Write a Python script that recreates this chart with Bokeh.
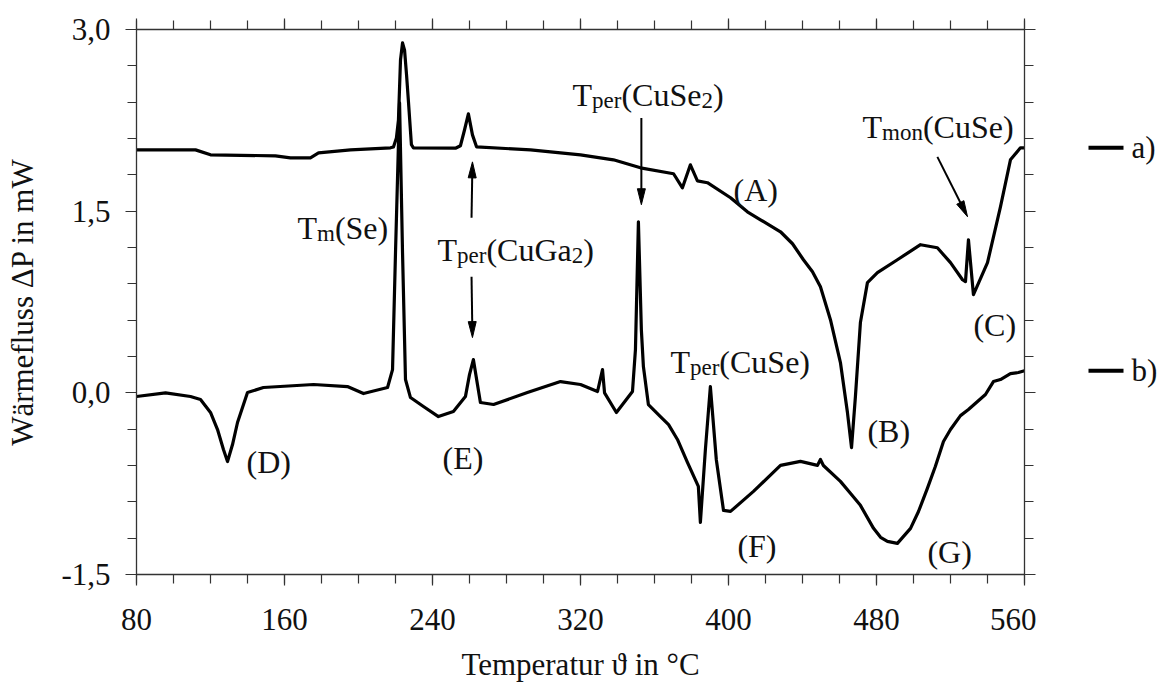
from bokeh.plotting import figure
from bokeh.layouts import row
from bokeh.models import (ColumnDataSource, FixedTicker, CustomJSTickFormatter,
                          LinearAxis, Range1d)
from bokeh.core.properties import value
from bokeh.embed import file_html
from bokeh.resources import INLINE

# --- DSC curves: temperature in °C, heat flow in mW -------------------------
temp_a = [80.0, 111.9, 120.0, 155.1, 163.2, 174.0, 178.4, 195.7, 217.3, 218.9,
          220.5, 221.6, 222.7, 223.8, 224.9, 226.0, 227.0, 228.6, 229.7, 252.4,
          255.1, 257.3, 259.4, 261.6, 263.8, 293.0, 320.0, 337.8, 352.4, 370.3,
          375.1, 379.4, 383.2, 388.6, 401.1, 410.2, 417.3, 428.1, 434.6, 440.5,
          445.4, 449.7, 455.1, 460.5, 464.3, 466.5, 468.6, 471.3, 475.1, 480.5,
          491.3, 503.8, 512.9, 520.0, 526.5, 528.1, 529.7, 532.4, 540.0, 547.0,
          552.4, 557.8, 560.0]
flow_a = [2.006, 2.006, 1.965, 1.957, 1.940, 1.940, 1.981, 2.006, 2.023, 2.03,
          2.105, 2.254, 2.748, 2.889, 2.83, 2.62, 2.405, 2.049, 2.023, 2.02,
          2.04, 2.17, 2.303, 2.13, 2.031, 2.006, 1.965, 1.924, 1.858, 1.809,
          1.693, 1.883, 1.75, 1.735, 1.611, 1.495, 1.429, 1.330, 1.231, 1.099,
          1.000, 0.876, 0.604, 0.250, -0.163, -0.452, -0.031, 0.580, 0.910, 0.993,
          1.099, 1.223, 1.198, 1.075, 0.934, 0.918, 1.264, 0.811, 1.075, 1.536,
          1.924, 2.023, 2.023]

temp_b = [80.0, 95.7, 109.2, 114.6, 120.0, 123.8, 127.0, 129.2, 131.9, 134.6,
          140.0, 148.6, 175.7, 194.0, 202.7, 209.2, 215.7, 218.4, 220.0, 222.2,
          223.8, 225.4, 228.1, 235.1, 243.2, 251.3, 257.8, 260.0, 262.1, 264.3,
          265.9, 273.0, 291.3, 309.2, 320.0, 329.2, 331.9, 333.0, 339.4, 348.1,
          349.7, 351.3, 352.9, 354.0, 356.7, 363.2, 367.6, 372.4, 377.8, 383.7,
          384.8, 387.5, 390.2, 393.4, 397.3, 401.1, 413.5, 428.1, 438.9, 448.1,
          449.7, 451.3, 460.5, 466.0, 471.3, 478.4, 482.2, 485.9, 491.3, 498.4,
          502.7, 507.5, 511.8, 516.2, 520.0, 525.4, 529.7, 534.6, 538.9, 543.2,
          547.0, 552.4, 556.7, 560.0]
flow_b = [-0.030, 0.0, -0.030, -0.055, -0.162, -0.303, -0.468, -0.567, -0.427, -0.245,
          0.002, 0.044, 0.069, 0.052, -0.006, 0.019, 0.044, 0.192, 1.157, 2.394,
          1.157, 0.110, -0.039, -0.113, -0.196, -0.155, -0.031, 0.15, 0.275, 0.069,
          -0.080, -0.096, 0.002, 0.093, 0.069, 0.011, 0.192, 0.0, -0.162, 0.011,
          0.357, 1.412, 0.52, 0.217, -0.097, -0.196, -0.262, -0.385, -0.575, -0.773,
          -1.070, -0.47, 0.052, -0.55, -0.971, -0.979, -0.814, -0.599, -0.566, -0.599,
          -0.55, -0.6, -0.731, -0.832, -0.929, -1.119, -1.193, -1.226, -1.243, -1.119,
          -0.980, -0.789, -0.608, -0.402, -0.303, -0.188, -0.138, -0.072, -0.014, 0.093,
          0.110, 0.159, 0.168, 0.183]

series_names = ["a)", "b)"]

x_ticks = [80, 160, 240, 320, 400, 480, 560]
y_ticks = [-1.5, 0.0, 1.5, 3.0]
x_label = "Temperatur \u03d1 in \u00b0C"
y_label = "W\u00e4rmefluss \u0394P in mW"

# annotation texts: (x, y, [(piece, is_subscript), ...])
annotations = [
    (167.0, 1.363, [("T", False), ("m", True), ("(Se)", False)]),
    (242.7, 1.182, [("T", False), ("per", True), ("(CuGa", False), ("2", True), (")", False)]),
    (315.7, 2.460, [("T", False), ("per", True), ("(CuSe", False), ("2", True), (")", False)]),
    (472.4, 2.196, [("T", False), ("mon", True), ("(CuSe)", False)]),
    (368.6, 0.258, [("T", False), ("per", True), ("(CuSe)", False)]),
    (402.7, 1.677, [("(A)", False)]),
    (475.1, -0.319, [("(B)", False)]),
    (532.4, 0.563, [("(C)", False)]),
    (139.5, -0.575, [("(D)", False)]),
    (245.4, -0.534, [("(E)", False)]),
    (404.8, -1.267, [("(F)", False)]),
    (507.5, -1.316, [("(G)", False)]),
]

# arrows: (x_start, y_start, x_tip, y_tip)
arrows = [
    (261.1, 1.446, 261.6, 1.907),
    (261.1, 0.959, 261.6, 0.456),
    (352.9, 2.270, 352.9, 1.553),
    (512.9, 1.948, 529.2, 1.454),
]

# --- layout constants --------------------------------------------------------
FONT = "Liberation Serif"
INK = "#111111"
AXIS_INK = "#333333"
X0, X1 = 80, 560
Y0, Y1 = -1.5, 3.0
FRAME_W, FRAME_H = 888, 545
SX = FRAME_W / (X1 - X0)
SY = FRAME_H / (Y1 - Y0)
MAIN_SIZE, SUB_SIZE = 32, 23

p = figure(frame_width=FRAME_W, frame_height=FRAME_H,
           x_range=Range1d(X0, X1), y_range=Range1d(Y0, Y1),
           x_axis_location=None, y_axis_location=None,
           output_backend="svg", toolbar_location=None,
           min_border_left=136, min_border_top=29, min_border_bottom=121,
           min_border_right=12)
p.outline_line_color = None
p.xgrid.visible = False
p.ygrid.visible = False
p.background_fill_color = "white"
p.border_fill_color = "white"

x_ticker = FixedTicker(ticks=x_ticks, minor_ticks=list(range(80, 561, 20)))
y_ticker = FixedTicker(ticks=y_ticks, minor_ticks=[round(-1.5 + 0.3 * i, 2) for i in range(16)])
y_fmt = CustomJSTickFormatter(code="return tick.toFixed(1).replace('.', ',');")
blank_fmt = CustomJSTickFormatter(code="return '';")


def style_axis(ax, show_labels):
    ax.axis_line_color = AXIS_INK
    ax.axis_line_width = 1.3
    ax.major_tick_in = 0
    ax.major_tick_out = 11
    ax.minor_tick_in = 0
    ax.minor_tick_out = 9
    ax.major_tick_line_color = AXIS_INK
    ax.minor_tick_line_color = AXIS_INK
    ax.major_tick_line_width = 1.2
    ax.minor_tick_line_width = 1.2
    if show_labels:
        ax.major_label_text_font = FONT
        ax.major_label_text_font_size = "31px"
        ax.major_label_text_color = INK
        ax.axis_label_text_font = FONT
        ax.axis_label_text_font_size = "31px"
        ax.axis_label_text_font_style = "normal"
        ax.axis_label_text_color = INK
    else:
        ax.formatter = blank_fmt
        ax.major_label_text_font_size = "1px"
        ax.major_label_text_color = None
        ax.major_label_standoff = 0


bottom = LinearAxis(ticker=x_ticker, axis_label=x_label)
style_axis(bottom, True)
bottom.major_label_standoff = 23
bottom.axis_label_standoff = 14
top = LinearAxis(ticker=x_ticker)
style_axis(top, False)
left = LinearAxis(ticker=y_ticker, formatter=y_fmt, axis_label=y_label)
style_axis(left, True)
left.major_label_standoff = 15
left.axis_label_standoff = 18
right = LinearAxis(ticker=y_ticker)
style_axis(right, False)
p.add_layout(bottom, "below")
p.add_layout(top, "above")
p.add_layout(left, "left")
p.add_layout(right, "right")

# curves
p.line(temp_a, flow_a, line_color="black", line_width=3.2, line_join="round")
p.line(temp_b, flow_b, line_color="black", line_width=3.2, line_join="round")

# arrows: shafts plus narrow filled heads
HEAD_LEN, HEAD_HALF = 16.0, 4.0
shaft_x0, shaft_y0, shaft_x1, shaft_y1 = [], [], [], []
head_xs, head_ys = [], []
for xs, ys, xt, yt in arrows:
    dx, dy = (xt - xs) * SX, (yt - ys) * SY
    length = (dx * dx + dy * dy) ** 0.5
    ux, uy = dx / length, dy / length
    bx, by = -ux * HEAD_LEN, -uy * HEAD_LEN
    nx, ny = -uy * HEAD_HALF, ux * HEAD_HALF
    shaft_x0.append(xs)
    shaft_y0.append(ys)
    shaft_x1.append(xt + bx / SX * 0.7)
    shaft_y1.append(yt + by / SY * 0.7)
    head_xs.append([xt, xt + (bx + nx) / SX, xt + (bx - nx) / SX])
    head_ys.append([yt, yt + (by + ny) / SY, yt + (by - ny) / SY])
p.segment(shaft_x0, shaft_y0, shaft_x1, shaft_y1, line_color="black", line_width=2)
p.patches(head_xs, head_ys, fill_color="black", line_color="black", line_width=1)

# annotation texts with subscripts, laid out with Times-like advance widths
ADV = {"T": .611, "m": .778, "p": .5, "e": .444, "r": .333, "o": .5, "n": .5,
       "(": .333, ")": .333, "C": .667, "u": .5, "S": .556, "G": .722, "a": .444,
       "2": .5, "A": .722, "B": .667, "D": .722, "E": .611, "F": .556}

tx, ty, tt, tdx, tdy, tsize = [], [], [], [], [], []
for x, y, pieces in annotations:
    off = 0.0
    for piece, sub in pieces:
        size = SUB_SIZE if sub else MAIN_SIZE
        tx.append(x)
        ty.append(y)
        tt.append(piece)
        tdx.append(off)
        tdy.append(6 if sub else 0)
        tsize.append(f"{size}px")
        off += sum(ADV.get(c, 0.5) for c in piece) * size
text_src = ColumnDataSource(dict(x=tx, y=ty, text=tt, dx=tdx, dy=tdy, size=tsize))
p.text(x="x", y="y", text="text", x_offset="dx", y_offset="dy",
       text_font_size="size", text_font=value(FONT), text_color=INK,
       text_align="left", text_baseline="alphabetic", source=text_src)

# --- series key at the right, level with each curve's end --------------------
q = figure(frame_width=123, frame_height=FRAME_H,
           x_range=Range1d(0, 123), y_range=p.y_range,
           x_axis_location=None, y_axis_location=None,
           output_backend="svg", toolbar_location=None,
           min_border_left=0, min_border_right=0, min_border_top=29,
           min_border_bottom=121)
q.outline_line_color = None
q.xgrid.visible = False
q.ygrid.visible = False
ends = [flow_a[-1], flow_b[-1]]
q.segment(x0=[52, 52], y0=ends, x1=[87, 87], y1=ends, line_color="black", line_width=4)
q.text(x=[95, 95], y=ends, text=series_names, text_font=value(FONT),
       text_font_size="31px", text_color=INK, text_baseline="middle", text_align="left")

layout = row(p, q)
open("out.html", "w").write(file_html(layout, INLINE))
